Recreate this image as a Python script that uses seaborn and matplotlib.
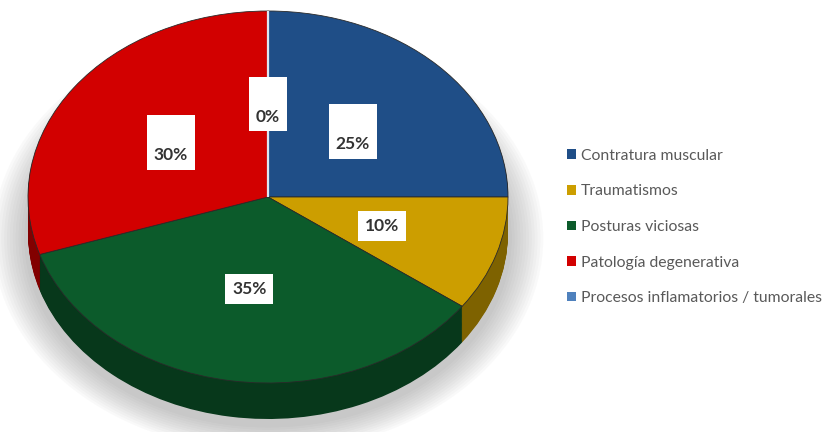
import numpy as np
import matplotlib
matplotlib.use("Agg")
import matplotlib.pyplot as plt
import matplotlib.colors as mcolors
from matplotlib.patches import Ellipse
import seaborn as sns

categories = [
    "Contratura muscular",
    "Traumatismos",
    "Posturas viciosas",
    "Patología degenerativa",
    "Procesos inflamatorios / tumorales",
]
percentages = [25, 10, 35, 30, 0]
colors = ["#1F4E87", "#CC9E00", "#0C5B2B", "#D20000", "#4F81BD"]

sns.set_theme(style="white")
plt.rcParams["font.family"] = ["Lato", "DejaVu Sans"]

W, H = 832, 432
fig = plt.figure(figsize=(W / 100, H / 100), dpi=100)
ax = fig.add_axes([0, 0, 1, 1])

# Pie geometry (pixels): centre, horizontal and vertical radius, thickness
cx, cy, rx, ry, depth = 268, 197, 240, 186, 36
ax.set_xlim(-cx / rx, (W - cx) / rx)
ax.set_ylim(-(H - cy) / ry, cy / ry)

# soft shadow beneath the disc
for k in range(12):
    grow = 0.015 + 0.012 * k
    ax.add_patch(Ellipse((0.0, -depth / ry - 0.03), 2 + 2 * grow, 2 + 2 * grow,
                         facecolor="#7a7a7a", alpha=0.04, lw=0, zorder=0))

# side of the disc: stacked darker copies of the pie
side_colors = [mcolors.to_hex(np.array(mcolors.to_rgb(c)) * 0.62) for c in colors]
for d in np.linspace(depth / ry, 0.005, 40):
    ax.pie(percentages, colors=side_colors, startangle=90, counterclock=False,
           center=(0, -d), radius=1, wedgeprops=dict(linewidth=0), frame=True)

# top face with percentage labels
wedges, _, autotexts = ax.pie(
    percentages, colors=colors, startangle=90, counterclock=False,
    center=(0, 0), radius=1, autopct=lambda p: f"{p:.0f}%", pctdistance=0.5,
    wedgeprops=dict(linewidth=0.6, edgecolor="#2a2a2a"), frame=True,
    textprops=dict(fontsize=12.5, fontweight="bold", color="#333333"),
)
wedges[4].set_edgecolor("#dce6f2")
wedges[4].set_linewidth(1.6)
wedges[4].set_zorder(5)
for i, t in enumerate(autotexts):
    if i in (0, 3, 4):
        t.set_text("\n" + t.get_text())
        t.set_linespacing(1.7)
    t.set_bbox(dict(boxstyle="square,pad=0.4", facecolor="white", edgecolor="none"))
    t.set_zorder(6)

ax.set_aspect("auto")
ax.set_xlim(-cx / rx, (W - cx) / rx)
ax.set_ylim(-(H - cy) / ry, cy / ry)
ax.set_axis_off()

handles = [plt.Rectangle((0, 0), 1, 1, facecolor=c, edgecolor="none") for c in colors]
fig.legend(handles, categories, loc="center left", bbox_to_anchor=(561 / W, 1 - 227 / H),
           frameon=False, fontsize=11.3, labelcolor="#595959", handlelength=0.55,
           handleheight=0.55, handletextpad=0.3, labelspacing=1.38, borderaxespad=0)

fig.savefig("out.png", dpi=100, facecolor="white")
